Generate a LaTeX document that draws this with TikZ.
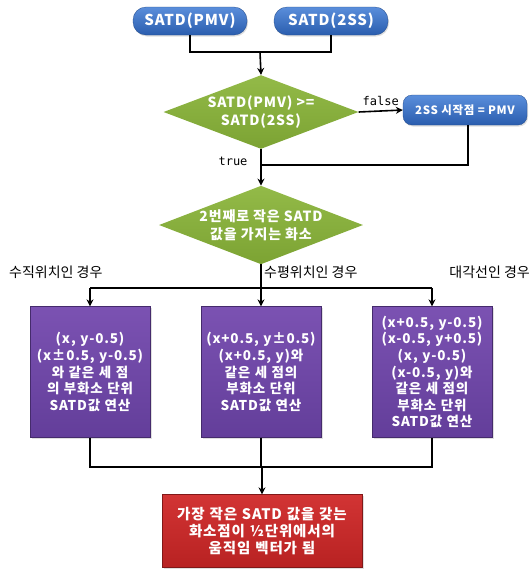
\documentclass[tikz,border=0pt]{standalone}
\usepackage{fontspec}
\setmainfont{Noto Sans CJK KR}
\newfontfamily\krwide{Noto Sans CJK KR}[LetterSpace=6]
\setmonofont{DejaVu Sans Mono}
\usetikzlibrary{shapes.geometric,arrows.meta,shadows}
\definecolor{blueA}{HTML}{5A8EDB}
\definecolor{blueB}{HTML}{2A5DAE}
\definecolor{greenA}{HTML}{93BA48}
\definecolor{greenB}{HTML}{7CA333}
\definecolor{purpA}{HTML}{7B52B2}
\definecolor{purpB}{HTML}{633E9A}
\definecolor{redA}{HTML}{D23434}
\definecolor{redB}{HTML}{B82222}
\tikzset{
  line/.style={draw=black, line width=1.6pt},
  arr/.style={line, -{Stealth[length=7pt,width=7pt]}},
  pill/.style={rounded corners=13pt, top color=blueA, bottom color=blueB, draw=blueB!80!black, line width=0.3pt,
    minimum width=114pt, minimum height=28pt, text=white, inner sep=0pt,
    font=\krwide\bfseries\fontsize{15}{17}\selectfont, drop shadow={opacity=0.25,shadow xshift=1pt,shadow yshift=-1.5pt}},
  smallpill/.style={pill, rounded corners=9pt, minimum width=124pt, minimum height=30pt, font=\krwide\bfseries\fontsize{11.5}{13}\selectfont},
  dia/.style={diamond, aspect=2.6, top color=greenA, bottom color=greenB, draw=none, inner sep=0pt,
    text=white, align=center, font=\krwide\bfseries\fontsize{14}{18}\selectfont},
  pbox/.style={rectangle, top color=purpA, bottom color=purpB, draw=purpB!70!black, line width=0.3pt, minimum width=120pt, minimum height=131pt,
    text width=119pt, align=center, inner sep=0pt, text=white, font=\krwide\bfseries\fontsize{13.5}{16.6}\selectfont,
    drop shadow={opacity=0.25,shadow xshift=1.5pt,shadow yshift=-1.5pt}},
  rbox/.style={rectangle, top color=redA, bottom color=redB, draw=redB!70!black, line width=0.3pt, minimum width=200pt, minimum height=73pt,
    text width=198pt, align=center, inner sep=0pt, text=white, font=\krwide\bfseries\fontsize{14.5}{16.8}\selectfont,
    drop shadow={opacity=0.25,shadow xshift=1.5pt,shadow yshift=-1.5pt}},
  lbl/.style={font=\fontsize{14}{16}\selectfont, inner sep=0pt, text=black},
  tlbl/.style={font=\ttfamily\fontsize{12}{14}\selectfont, inner sep=0pt, text=black},
}
\begin{document}
\begin{tikzpicture}[x=1pt,y=-1pt]
\useasboundingbox (0,0) rectangle (532,571);
% top pills
\node[pill] (pmv) at (190,21) {SATD(PMV)};
\node[pill] (ss) at (331,21) {SATD(2SS)};
\coordinate (j1) at (260,52);
% decision 1
\node[dia, minimum width=195pt, minimum height=72pt] (d1) at (261,112) {SATD(PMV) >=\\SATD(2SS)};
\node[smallpill] (b2ss) at (465,110) {2SS 시작점 = PMV};
\coordinate (c1) at (261,165);
% decision 2
\node[dia, minimum width=188pt, minimum height=75pt] (d2) at (261,225) {2번째로 작은 SATD\\값을 가지는 화소};
\coordinate (h) at (261,288);
% purple boxes
\node[pbox] (p1) at (90,372) {(x, y-0.5)\\(x±0.5, y-0.5)\\와 같은 세 점\\의 부화소 단위\\SATD값 연산};
\node[pbox] (p2) at (261,372) {(x+0.5, y±0.5)\\(x+0.5, y)와\\같은 세 점의\\부화소 단위\\SATD값 연산};
\node[pbox] (p3) at (432,372) {(x+0.5, y-0.5)\\(x-0.5, y+0.5)\\(x, y-0.5)\\(x-0.5, y)와\\같은 세 점의\\부화소 단위\\SATD값 연산};
\coordinate (g) at (262,467);
% result
\node[rbox] (red) at (262,531) {가장 작은 SATD 값을 갖는\\화소점이 ½단위에서의\\움직임 벡터가 됨};
% labels
\node[lbl, anchor=west] (l1) at (9,272) {수직위치인 경우};
\node[lbl, anchor=west] (l2) at (264,272) {수평위치인 경우};
\node[lbl, anchor=east] (l3) at (530,272) {대각선인 경우};
\node[tlbl] (lt) at (233,161) {true};
% connectors
\draw[line] (pmv.south) -- (pmv.south |- j1) -- (ss.south |- j1) -- (ss.south);
\draw[arr] (j1) -- (d1.north);
\draw[arr] (d1.east) -- node[tlbl, above=5pt] (lf) {false} (b2ss.west);
\draw[line] ([xshift=3pt]b2ss.south) |- (c1);
\draw[arr] (d1.south) -- (d2.north);
\draw[line] (d2.south) -- (h);
\draw[line] (p1.north |- h) -- (p3.north |- h);
\draw[arr] (p1.north |- h) -- (p1.north);
\draw[arr] (h) -- (p2.north);
\draw[arr] (p3.north |- h) -- (p3.north);
\draw[line] (p1.south) -- (p1.south |- g) -- (p3.south |- g) -- (p3.south);
\draw[line] (p2.south) -- (p2.south |- g);
\draw[arr] (g) -- (red.north);
\end{tikzpicture}
\end{document}
